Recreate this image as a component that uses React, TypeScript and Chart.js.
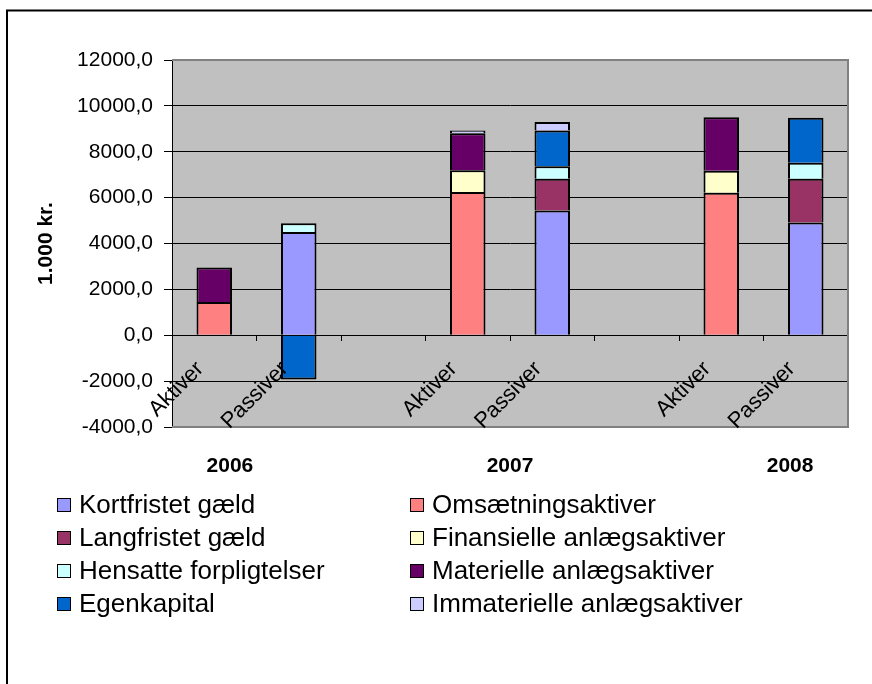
import { useEffect, useRef } from 'react';
import { Chart, registerables } from 'chart.js';

Chart.register(...registerables);

const FONT = '"Liberation Sans", Arial, sans-serif';

// Category slots: Aktiver / Passiver per year, with an empty slot between years
const CATEGORIES = ['Aktiver', 'Passiver', '', 'Aktiver', 'Passiver', '', 'Aktiver', 'Passiver'];
const YEAR_TITLE = '2006' + ' '.repeat(40) + '2007' + ' '.repeat(40) + '2008';
const Y_TITLE = '1.000 kr.';
const Y_MIN = -4000;
const Y_MAX = 12000;
const Y_STEP = 2000;

// Series values (1.000 kr.), one per category slot
const kortfristetGaeld = [null, 4500, null, null, 5440, null, null, 4920];
const omsaetningsaktiver = [1450, null, null, 6240, null, null, 6210, null];
const langfristetGaeld = [null, null, null, null, 1380, null, null, 1900];
const finansielleAnlaeg = [null, null, null, 950, null, null, 960, null];
const hensatteForpligtelser = [null, 380, null, null, 550, null, null, 700];
const materielleAnlaeg = [1500, null, null, 1620, null, null, 2330, null];
const egenkapital = [null, -1930, null, null, 1560, null, null, 1960];
const immaterielleAnlaeg = [null, null, null, 120, 370, null, null, null];

const SERIES = [
  { label: 'Kortfristet gæld', data: kortfristetGaeld, color: '#9999FF' },
  { label: 'Omsætningsaktiver', data: omsaetningsaktiver, color: '#FF8080' },
  { label: 'Langfristet gæld', data: langfristetGaeld, color: '#993366' },
  { label: 'Finansielle anlægsaktiver', data: finansielleAnlaeg, color: '#FFFFCC' },
  { label: 'Hensatte forpligtelser', data: hensatteForpligtelser, color: '#CCFFFF' },
  { label: 'Materielle anlægsaktiver', data: materielleAnlaeg, color: '#660066' },
  { label: 'Egenkapital', data: egenkapital, color: '#0066CC' },
  { label: 'Immaterielle anlægsaktiver', data: immaterielleAnlaeg, color: '#CCCCFF' },
];

const excelFrame = {
  id: 'excelFrame',
  beforeDraw(chart: any) {
    const { ctx, chartArea: a } = chart;
    ctx.save();
    ctx.fillStyle = '#C0C0C0';
    ctx.fillRect(a.left, a.top, a.right - a.left, a.bottom - a.top);
    ctx.restore();
  },
  beforeDatasetsDraw(chart: any) {
    const { ctx, chartArea: a } = chart;
    ctx.save();
    ctx.strokeStyle = '#808080';
    ctx.lineWidth = 2;
    ctx.beginPath();
    ctx.moveTo(a.left, a.top);
    ctx.lineTo(a.right, a.top);
    ctx.lineTo(a.right, a.bottom);
    ctx.lineTo(a.left, a.bottom);
    ctx.stroke();
    ctx.restore();
  },
  afterDraw(chart: any) {
    const { ctx, chartArea: a } = chart;
    ctx.save();
    // legend in two columns
    ctx.font = `26px ${FONT}`;
    ctx.textBaseline = 'middle';
    ctx.textAlign = 'left';
    chart.data.datasets.forEach((ds: any, i: number) => {
      const col = i % 2;
      const row = Math.floor(i / 2);
      const bx = 57 + col * 353;
      const cy = a.bottom + 78 + row * 33;
      ctx.fillStyle = ds.backgroundColor;
      ctx.fillRect(bx, cy - 7, 14, 14);
      ctx.strokeStyle = '#000';
      ctx.lineWidth = 1;
      ctx.strokeRect(bx + 0.5, cy - 6.5, 13, 13);
      ctx.fillStyle = '#000';
      ctx.fillText(ds.label, bx + 22, cy + 1);
    });
    // outer chart border
    ctx.strokeStyle = '#000';
    ctx.lineWidth = 2;
    ctx.beginPath();
    ctx.moveTo(7, chart.height + 10);
    ctx.lineTo(7, 10.5);
    ctx.lineTo(chart.width + 10, 10.5);
    ctx.stroke();
    ctx.restore();
  },
};

export default function App() {
  const ref = useRef<HTMLCanvasElement>(null);

  useEffect(() => {
    const canvas = ref.current;
    if (!canvas) return;
    const chart = new Chart(canvas, {
      type: 'bar',
      data: {
        labels: CATEGORIES,
        datasets: SERIES.map((s) => ({
          label: s.label,
          data: s.data as any,
          backgroundColor: s.color,
          borderColor: '#000',
          borderWidth: 2,
          barPercentage: 0.42,
          categoryPercentage: 1,
          xAxisID: 'x',
          yAxisID: 'y',
        })),
      },
      options: {
        responsive: false,
        devicePixelRatio: 1,
        animation: false,
        layout: { padding: { left: 12, top: 60, right: 24, bottom: 205 } },
        plugins: {
          legend: { display: false },
          tooltip: { enabled: false },
          title: { display: false },
        },
        scales: {
          x: {
            type: 'category',
            position: { y: 0 } as any,
            stacked: true,
            offset: true,
            grid: {
              offset: true,
              drawOnChartArea: false,
              drawTicks: true,
              tickLength: 5,
              color: '#000',
            },
            border: { display: true, color: '#000', width: 1 },
            ticks: {
              autoSkip: false,
              minRotation: 45,
              maxRotation: 45,
              labelOffset: -14,
              padding: 16,
              color: '#000',
              font: { family: FONT, size: 22 },
              z: 1,
            },
          },
          x2: {
            type: 'category',
            position: 'bottom',
            grid: { display: false, drawTicks: false },
            border: { display: false },
            ticks: { display: false },
            title: {
              display: true,
              text: YEAR_TITLE,
              color: '#000',
              font: { family: FONT, size: 21, weight: 'bold' },
              padding: 0,
            },
            afterFit: (s: any) => {
              s.height = 52;
            },
          },
          y: {
            type: 'linear',
            stacked: true,
            min: Y_MIN,
            max: Y_MAX,
            grid: {
              color: (c: any) =>
                c.tick && (c.tick.value === Y_MAX || c.tick.value === Y_MIN) ? 'rgba(0,0,0,0)' : '#000',
              tickColor: '#000',
              lineWidth: 1,
              drawTicks: true,
              tickLength: 8,
            },
            border: { display: true, color: '#000', width: 1 },
            ticks: {
              stepSize: Y_STEP,
              padding: 11,
              color: '#000',
              font: { family: FONT, size: 21 },
              callback: (v: any) => Number(v).toFixed(1).replace('.', ','),
            },
            title: {
              display: true,
              text: Y_TITLE,
              color: '#000',
              font: { family: FONT, size: 21, weight: 'bold' },
              padding: { top: 22, bottom: 0 },
            },
            afterFit: (s: any) => {
              s.width = 160;
            },
          },
        },
      } as any,
      plugins: [excelFrame],
    });
    return () => chart.destroy();
  }, []);

  return (
    <div style={{ position: 'absolute', left: 0, top: 0, width: 872, height: 684 }}>
      <canvas ref={ref} width={872} height={684} style={{ display: 'block', width: 872, height: 684 }} />
    </div>
  );
}
